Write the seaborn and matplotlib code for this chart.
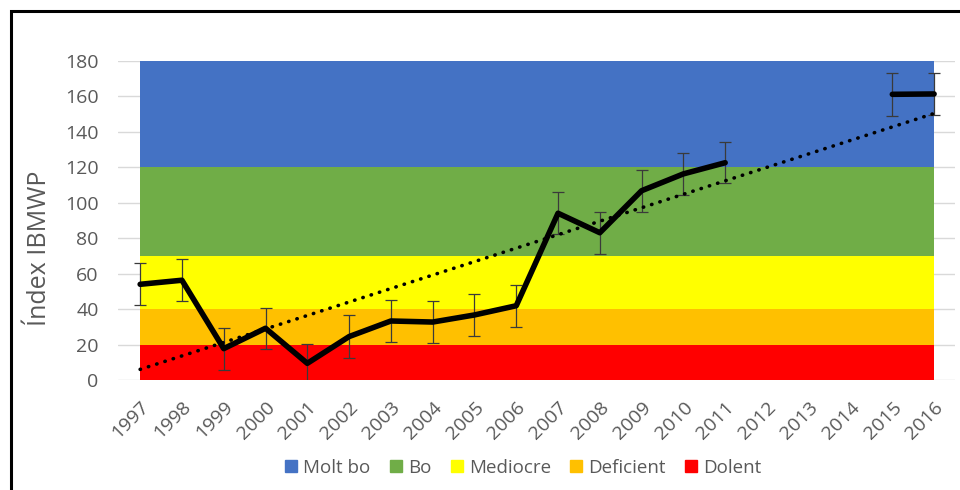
import numpy as np
import pandas as pd
import matplotlib
matplotlib.use("Agg")
import matplotlib.pyplot as plt
from matplotlib.patches import Rectangle
from matplotlib.lines import Line2D
import seaborn as sns

# ---- data ----
years = [str(y) for y in range(1997, 2017)]
ibmwp = [54.0, 56.3, 17.7, 29.2, 9.4, 24.5, 33.3, 32.7, 36.7, 41.9,
         94.1, 83.1, 106.8, 116.3, 122.6, np.nan, np.nan, np.nan, 161.2, 161.4]
err = [11.8, 12.0, 11.8, 11.5, 11.0, 12.0, 11.8, 12.0, 11.8, 11.9,
       11.8, 11.9, 11.9, 11.8, 11.6, np.nan, np.nan, np.nan, 12.1, 12.1]
segment = ["a"] * 15 + [None] * 3 + ["b"] * 2

band_names = ["Molt bo", "Bo", "Mediocre", "Deficient", "Dolent"]
band_upper = [180, 120, 70, 40, 20]
band_colors = ["#4472C4", "#70AD47", "#FFFF00", "#FFC000", "#FF0000"]
yticks = [0, 20, 40, 60, 80, 100, 120, 140, 160, 180]

sns.set_theme(style="white")
plt.rcParams["font.family"] = ["Open Sans", "DejaVu Sans"]
grey = "#595959"

fig = plt.figure(figsize=(9.6, 4.9), dpi=100)
ax = fig.add_axes([118 / 960, 1 - 380 / 490, (955 - 118) / 960, (380 - 61) / 490])

x = np.arange(len(years))
df = pd.DataFrame({"x": x, "year": years, "v": ibmwp, "e": err, "seg": segment})

# bands (stacked areas across categories)
order = list(zip(band_names, band_upper, band_colors))[::-1]
lower = 0
for name, up, col in order:
    ax.fill_between(x, lower, up, color=col, lw=0, zorder=1)
    lower = up

# gridlines
for t in yticks:
    ax.axhline(t, color="#D9D9D9", lw=1, zorder=0)

# error bars
valid = df.dropna(subset=["v"])
ax.errorbar(valid["x"], valid["v"], yerr=valid["e"], fmt="none",
            ecolor="#3a3a3a", elinewidth=0.9, capsize=4.5, capthick=0.9, zorder=3)

# main line (broken at missing years)
sns.lineplot(data=valid, x="x", y="v", units="seg", estimator=None,
             color="black", lw=4, ax=ax, zorder=4, legend=False, sort=False)

# linear trendline
sns.regplot(data=valid, x="x", y="v", scatter=False, ci=None, truncate=True,
            ax=ax, line_kws=dict(color="black", lw=2.6, linestyle=(0, (0.1, 2.3)),
                                 dash_capstyle="round", zorder=5))

ax.set_xlim(-0.53, 19.5)
ax.set_ylim(0, 180)
ax.set_yticks(yticks)
ax.set_yticklabels([str(t) for t in yticks], fontsize=14, color=grey)
ax.set_xticks(x)
ax.set_xticklabels(years, rotation=45, ha="right", rotation_mode="anchor",
                   fontsize=14, color=grey)
ax.tick_params(axis="both", length=0)
ax.tick_params(axis="y", pad=14)
ax.tick_params(axis="x", pad=13)
ax.set_xlabel("")
ax.set_ylabel("Índex IBMWP", fontsize=18, color=grey)
ax.yaxis.set_label_coords((52 - 118) / 837, (380 - 248) / 319)
for s in ax.spines.values():
    s.set_visible(False)

handles = [Line2D([], [], marker="s", linestyle="none", markersize=9,
                  markerfacecolor=c, markeredgecolor=c) for c in band_colors]
fig.legend(handles, band_names, loc="center", bbox_to_anchor=(0.545, 0.045),
           ncol=5, frameon=False, fontsize=13.5, labelcolor=grey,
           handlelength=0.7, handletextpad=0.3, columnspacing=1.0)

# outer frame (cut by image edges)
fig.patches.append(Rectangle((10.5 / 960, -0.1), 1.2, 1 - 11 / 490 + 0.1,
                             fill=False, edgecolor="black", lw=2.2,
                             transform=fig.transFigure, figure=fig))

fig.savefig("out.png", dpi=100)
